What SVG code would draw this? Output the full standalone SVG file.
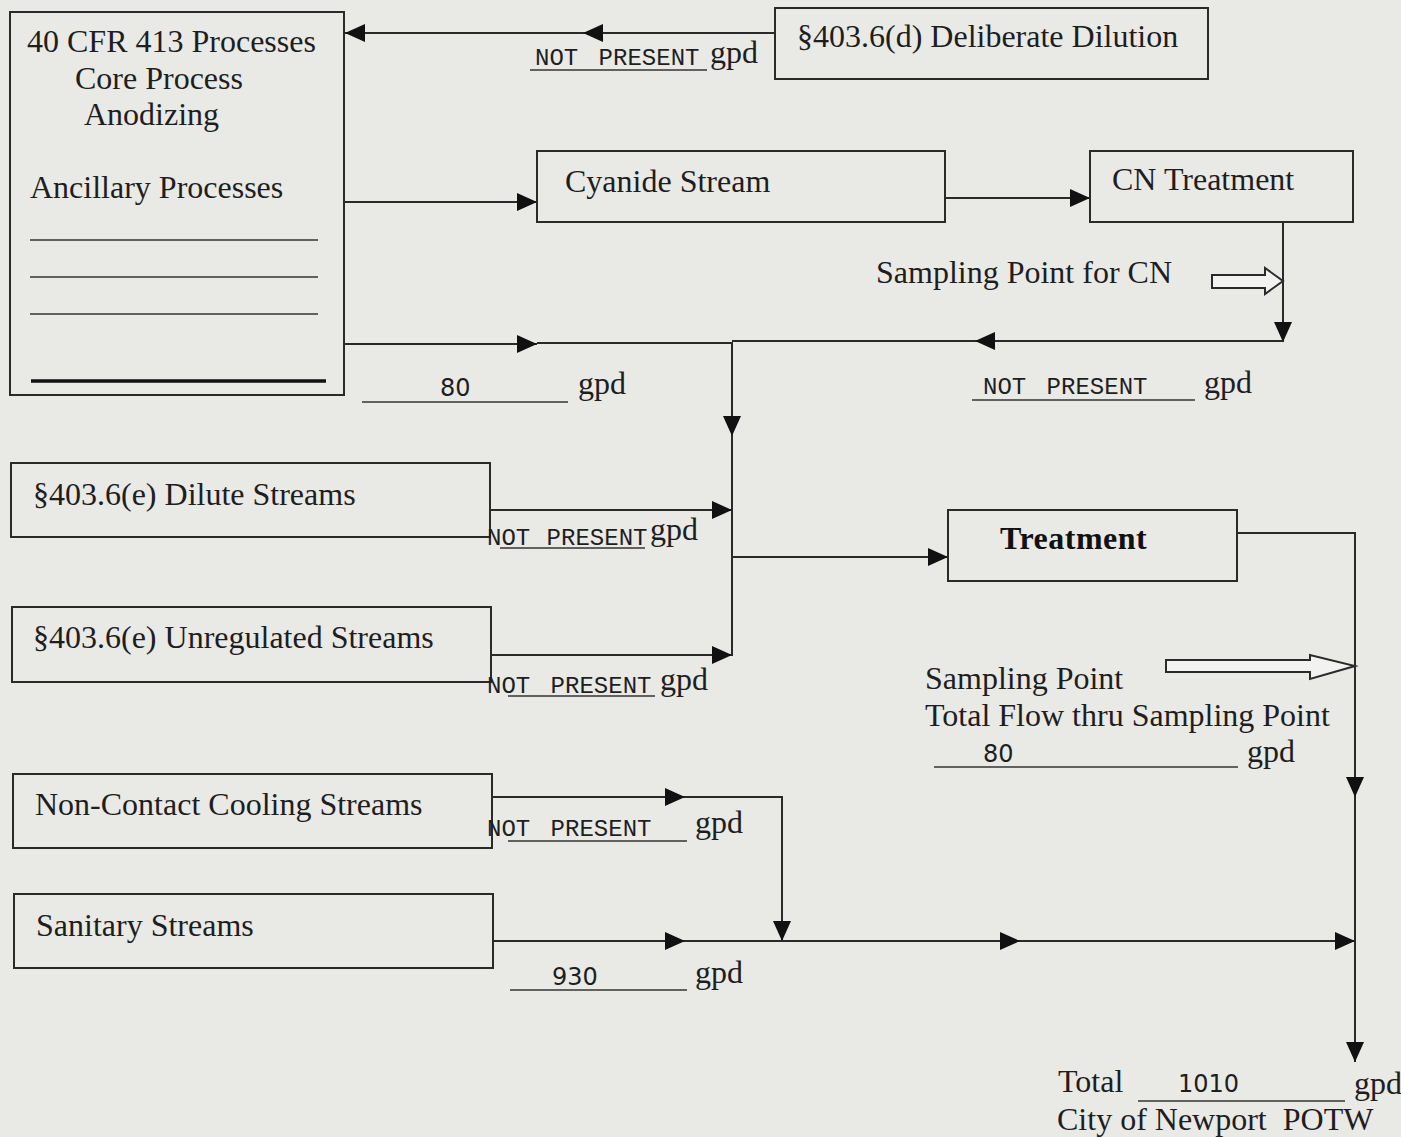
<svg xmlns="http://www.w3.org/2000/svg" width="1401" height="1137" viewBox="0 0 1401 1137">
<defs>
<style>
.bg{fill:#e9e9e6}
.box{fill:none;stroke:#2a2a2a;stroke-width:2}
.ln{fill:none;stroke:#2a2a2a;stroke-width:2}
.ul{stroke:#333;stroke-width:1.5}
.t{font-family:"Liberation Serif","Times New Roman",serif;font-size:32px;fill:#1e1e1e}
.tb{font-family:"Liberation Serif","Times New Roman",serif;font-size:32px;font-weight:bold;letter-spacing:0.5px;fill:#111}
.m{font-family:"Liberation Mono","Courier New",monospace;font-size:24px;fill:#1e1e1e}
.n{font-family:"DejaVu Sans",Verdana,sans-serif;font-size:24px;fill:#1e1e1e}
.hol{fill:#f2f2f0;stroke:#2a2a2a;stroke-width:2}
</style>
<marker id="ah" markerUnits="userSpaceOnUse" markerWidth="20" markerHeight="18" refX="20" refY="9" orient="auto">
<path d="M0,0 L20,9 L0,18 z" fill="#111"/>
</marker>
</defs>
<rect class="bg" x="0" y="0" width="1401" height="1137"/>

<g id="connectors">
<path class="ln" d="M775,33 H583" marker-end="url(#ah)"/>
<path class="ln" d="M583,33 H345" marker-end="url(#ah)"/>
<path class="ln" d="M345,202 H537" marker-end="url(#ah)"/>
<path class="ln" d="M945,198 H1090" marker-end="url(#ah)"/>
<path class="ln" d="M1283,222 V342" marker-end="url(#ah)"/>
<path class="ln" d="M1283,341 H975" marker-end="url(#ah)"/>
<path class="ln" d="M975,341 H732"/>
<path class="ln" d="M345,344 H537" marker-end="url(#ah)"/>
<path class="ln" d="M537,343 H732"/>
<path class="ln" d="M732,342 V436" marker-end="url(#ah)"/>
<path class="ln" d="M732,436 V656"/>
<path class="ln" d="M490,510 H732" marker-end="url(#ah)"/>
<path class="ln" d="M491,655 H732" marker-end="url(#ah)"/>
<path class="ln" d="M732,557 H948" marker-end="url(#ah)"/>
<path class="ln" d="M1237,533 H1355 V797" marker-end="url(#ah)"/>
<path class="ln" d="M1355,797 V1062" marker-end="url(#ah)"/>
<path class="ln" d="M492,797 H685" marker-end="url(#ah)"/>
<path class="ln" d="M685,797 H782 V941" marker-end="url(#ah)"/>
<path class="ln" d="M493,941 H685" marker-end="url(#ah)"/>
<path class="ln" d="M685,941 H1020" marker-end="url(#ah)"/>
<path class="ln" d="M1020,941 H1355" marker-end="url(#ah)"/>
<polygon class="hol" points="1212,275 1265,275 1265,268 1283,281 1265,294 1265,288 1212,288"/>
<polygon class="hol" points="1166,660 1310,660 1310,655 1355,666 1310,679 1310,672 1166,672"/>
</g>

<g id="node-cfr413">
<rect class="box" x="10" y="12" width="334" height="383"/>
<text class="t" x="27" y="52">40 CFR 413 Processes</text>
<text class="t" x="75" y="89">Core Process</text>
<text class="t" x="84" y="125">Anodizing</text>
<text class="t" x="30" y="198">Ancillary Processes</text>
<line class="ul" x1="30" y1="240" x2="318" y2="240"/>
<line class="ul" x1="30" y1="277" x2="318" y2="277"/>
<line class="ul" x1="30" y1="314" x2="318" y2="314"/>
<line x1="31" y1="381" x2="326" y2="381" stroke="#111" stroke-width="3.5"/>
</g>

<g id="node-dilution">
<rect class="box" x="775" y="8" width="433" height="71"/>
<text class="t" x="797" y="47">§403.6(d) Deliberate Dilution</text>
</g>
<g id="label-dilution">
<text class="m" x="535" y="65">NOT<tspan dx="6"> PRESENT</tspan></text>
<line class="ul" x1="530" y1="70" x2="707" y2="70"/>
<text class="t" x="710" y="63">gpd</text>
</g>

<g id="node-cyanide">
<rect class="box" x="537" y="151" width="408" height="71"/>
<text class="t" x="565" y="192">Cyanide Stream</text>
</g>

<g id="node-cntreatment">
<rect class="box" x="1090" y="151" width="263" height="71"/>
<text class="t" x="1112" y="190">CN Treatment</text>
</g>

<g id="label-cn-sampling">
<text class="t" x="876" y="283">Sampling Point for CN</text>
</g>

<g id="label-process-flow">
<text class="n" x="440" y="396">80</text>
<line class="ul" x1="362" y1="402" x2="568" y2="402"/>
<text class="t" x="578" y="394">gpd</text>
</g>
<g id="label-cn-flow">
<text class="m" x="983" y="394">NOT<tspan dx="6"> PRESENT</tspan></text>
<line class="ul" x1="972" y1="400" x2="1195" y2="400"/>
<text class="t" x="1204" y="393">gpd</text>
</g>

<g id="node-dilute">
<rect class="box" x="11" y="463" width="479" height="74"/>
<text class="t" x="33" y="505">§403.6(e) Dilute Streams</text>
<text class="m" x="487" y="545">NOT<tspan dx="2"> PRESENT</tspan></text>
<line class="ul" x1="500" y1="548" x2="645" y2="548"/>
<text class="t" x="650" y="540">gpd</text>
</g>

<g id="node-unregulated">
<rect class="box" x="12" y="607" width="479" height="75"/>
<text class="t" x="33" y="648">§403.6(e) Unregulated Streams</text>
<text class="m" x="487" y="693">NOT<tspan dx="6"> PRESENT</tspan></text>
<line class="ul" x1="508" y1="696" x2="655" y2="696"/>
<text class="t" x="660" y="690">gpd</text>
</g>

<g id="node-treatment">
<rect class="box" x="948" y="510" width="289" height="71"/>
<text class="tb" x="1000" y="549">Treatment</text>
</g>

<g id="label-sampling">
<text class="t" x="925" y="689">Sampling Point</text>
<text class="t" x="925" y="726">Total Flow thru Sampling Point</text>
<text class="n" x="983" y="762">80</text>
<line class="ul" x1="934" y1="767" x2="1238" y2="767"/>
<text class="t" x="1247" y="762">gpd</text>
</g>

<g id="node-cooling">
<rect class="box" x="13" y="774" width="479" height="74"/>
<text class="t" x="35" y="815">Non-Contact Cooling Streams</text>
<text class="m" x="487" y="836">NOT<tspan dx="6"> PRESENT</tspan></text>
<line class="ul" x1="508" y1="841" x2="687" y2="841"/>
<text class="t" x="695" y="833">gpd</text>
</g>

<g id="node-sanitary">
<rect class="box" x="14" y="894" width="479" height="74"/>
<text class="t" x="36" y="936">Sanitary Streams</text>
<text class="n" x="552" y="985">930</text>
<line class="ul" x1="510" y1="990" x2="687" y2="990"/>
<text class="t" x="695" y="983">gpd</text>
</g>

<g id="node-potw">
<text class="t" x="1058" y="1092">Total</text>
<text class="n" x="1178" y="1092">1010</text>
<line class="ul" x1="1138" y1="1101" x2="1345" y2="1101"/>
<text class="t" x="1354" y="1094">gpd</text>
<text class="t" x="1057" y="1130">City of Newport<tspan dx="8"> POTW</tspan></text>
</g>
</svg>
